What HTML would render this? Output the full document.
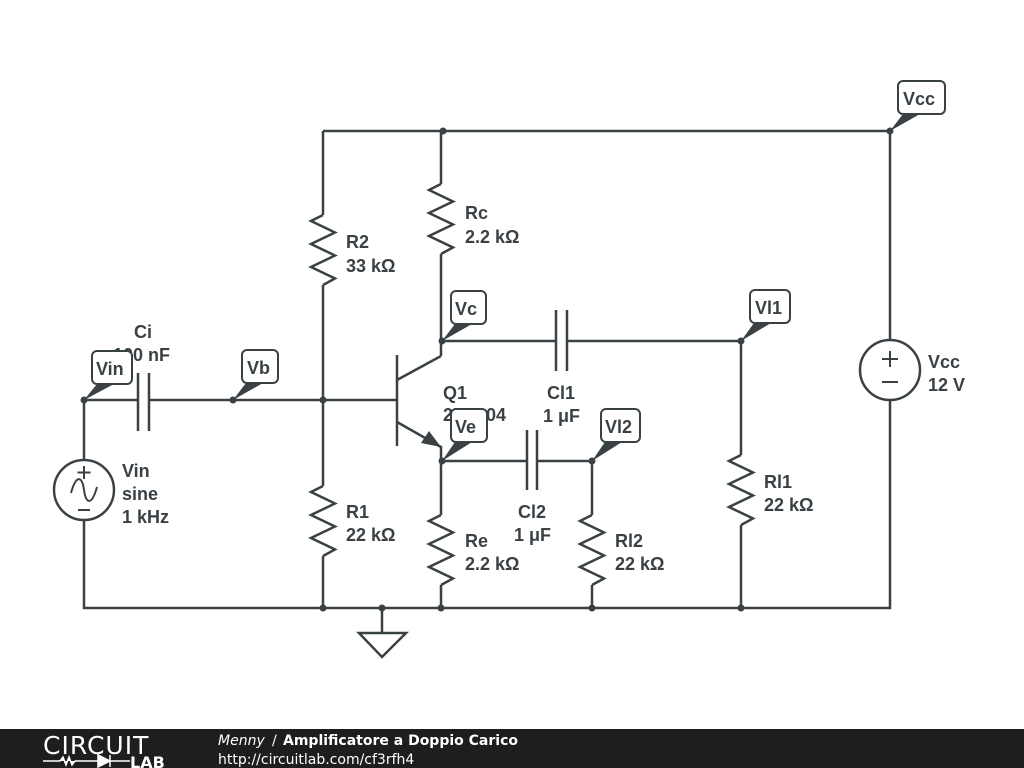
<!DOCTYPE html>
<html><head><meta charset="utf-8"><style>
html,body{margin:0;padding:0;background:#fff;}
svg{display:block;}
text{font-family:"Liberation Sans",sans-serif;font-weight:bold;font-size:18px;fill:#3a4145;}
.lb{font-size:18px;}
</style></head><body>
<svg width="1024" height="768" viewBox="0 0 1024 768" xmlns="http://www.w3.org/2000/svg">
<defs>
<path id="zz" d="M0,0 l-12,6 l24,11.5 l-24,11.5 l24,11.5 l-24,11.5 l24,11.5 l-12,6.5" fill="none"/>
</defs>
<g stroke="#3a4145" stroke-width="2.5" fill="none" stroke-linejoin="miter">
<path d="M323,131 H890 V340"/>
<path d="M890,400 V608 H84 V520"/>
<path d="M84,460 V400 H138 M149,400 H397"/>
<path d="M138,373 V431 M149,373 V431"/>
<path d="M323,131 V215 M323,285 V400"/>
<use href="#zz" x="323" y="215"/>
<path d="M323,400 V486 M323,556 V608"/>
<use href="#zz" x="323" y="486"/>
<path d="M441,131 V184 M441,254 V356"/>
<use href="#zz" x="441" y="184"/>
<path d="M397,355 V446"/>
<path d="M397,380 L441,356"/>
<path d="M397,422 L441,447 V515 M441,585 V608"/>
<path d="M441,341 H556 M567,341 H741 V455 M741,525 V608"/>
<use href="#zz" x="741" y="455"/>
<path d="M556,310 V371 M567,310 V371"/>
<path d="M441,461 H527 M537,461 H592 V515 M592,585 V608"/>
<path d="M527,430 V490 M537,430 V490"/>
<use href="#zz" x="592" y="515"/>
<use href="#zz" x="441" y="515"/>
<path d="M382,608 V633 M359,633 H406 L382,657 Z"/>
<circle cx="84" cy="490" r="30"/>
<path d="M71,493 C76,475 82,475 84,490 C86,505 92,505 97,487" stroke-width="2"/>
<path d="M84,466 V479 M77.5,472.5 H90.5 M78,510 H90" stroke-width="2"/>
<circle cx="890" cy="370" r="30"/>
<path d="M890,351 V367 M882,359 H898 M882,382 H898" stroke-width="2"/>
</g>
<polygon points="441,447 421,443 429,431" fill="#3a4145"/>
<g fill="#3a4145">
<circle cx="443" cy="131" r="3.5"/><circle cx="890" cy="131" r="3.5"/>
<circle cx="84" cy="400" r="3.5"/><circle cx="233" cy="400" r="3.5"/><circle cx="323" cy="400" r="3.5"/>
<circle cx="442" cy="341" r="3.5"/><circle cx="741" cy="341" r="3.5"/>
<circle cx="442" cy="461" r="3.5"/><circle cx="592" cy="461" r="3.5"/>
<circle cx="323" cy="608" r="3.5"/><circle cx="382" cy="608" r="3.5"/><circle cx="441" cy="608" r="3.5"/>
<circle cx="592" cy="608" r="3.5"/><circle cx="741" cy="608" r="3.5"/>
</g>
<text x="346" y="248">R2</text><text x="346" y="272">33 kΩ</text>
<text x="346" y="518">R1</text><text x="346" y="541">22 kΩ</text>
<text x="465" y="219">Rc</text><text x="465" y="243">2.2 kΩ</text>
<text x="465" y="547">Re</text><text x="465" y="570">2.2 kΩ</text>
<text x="615" y="547">Rl2</text><text x="615" y="570">22 kΩ</text>
<text x="764" y="488">Rl1</text><text x="764" y="511">22 kΩ</text>
<text x="443" y="399">Q1</text><text x="443" y="421">2N3904</text>
<text x="547" y="399">Cl1</text><text x="543" y="422">1 μF</text>
<text x="518" y="518">Cl2</text><text x="514" y="541">1 μF</text>
<text x="134" y="338">Ci</text><text x="113" y="361">100 nF</text>
<text x="122" y="477">Vin</text><text x="122" y="500">sine</text><text x="122" y="523">1 kHz</text>
<text x="928" y="368">Vcc</text><text x="928" y="391">12 V</text>
<g fill="#fff" stroke="#3a4145" stroke-width="2">
<rect x="898" y="81" width="47" height="33" rx="5"/>
<rect x="451" y="291" width="35" height="33" rx="5"/>
<rect x="750" y="290" width="40" height="33" rx="5"/>
<rect x="92" y="351" width="40" height="33" rx="5"/>
<rect x="242" y="350" width="36" height="33" rx="5"/>
<rect x="451" y="409" width="36" height="33" rx="5"/>
<rect x="601" y="409" width="39" height="33" rx="5"/>
</g>
<g fill="#3a4145">
<polygon points="890,131 903,114 920,114"/>
<polygon points="442,341 455,324 472,324"/>
<polygon points="741,341 754,323 771,323"/>
<polygon points="84,400 97,384 114,384"/>
<polygon points="233,400 246,383 263,383"/>
<polygon points="442,461 455,442 472,442"/>
<polygon points="592,461 605,442 622,442"/>
</g>
<text class="lb" x="903" y="105">Vcc</text>
<text class="lb" x="455" y="315">Vc</text>
<text class="lb" x="755" y="314">Vl1</text>
<text class="lb" x="96" y="375">Vin</text>
<text class="lb" x="247" y="374">Vb</text>
<text class="lb" x="455" y="433">Ve</text>
<text class="lb" x="605" y="433">Vl2</text>
<rect x="0" y="729" width="1024" height="39" fill="#1e1e1e"/>
<text x="43" y="754" style="font-family:'DejaVu Sans',sans-serif;font-weight:normal;font-size:25px;fill:#fff;letter-spacing:1px">CIRCUIT</text>
<path d="M43,761 H60 l3,-4 l3,8 l3,-8 l3,8 l3,-4 H98 M98,755 V767 L110,761 Z M110,755 V767 M110,761 H130" stroke="#fff" stroke-width="1.5" fill="#fff"/>
<text x="130" y="768" style="font-family:'DejaVu Sans',sans-serif;font-size:16px;fill:#fff">LAB</text>
<text x="218" y="745" style="font-family:'DejaVu Sans',sans-serif;font-weight:normal;font-style:italic;font-size:14px;fill:#fff">Menny</text>
<text x="272" y="745" style="font-family:'DejaVu Sans',sans-serif;font-weight:normal;font-size:14px;fill:#fff">/</text>
<text x="283" y="745" style="font-family:'DejaVu Sans',sans-serif;font-size:14px;fill:#fff">Amplificatore a Doppio Carico</text>
<text x="218" y="764" style="font-family:'DejaVu Sans',sans-serif;font-weight:normal;font-size:14px;fill:#fff">http://circuitlab.com/cf3rfh4</text>
</svg>
</body></html>
